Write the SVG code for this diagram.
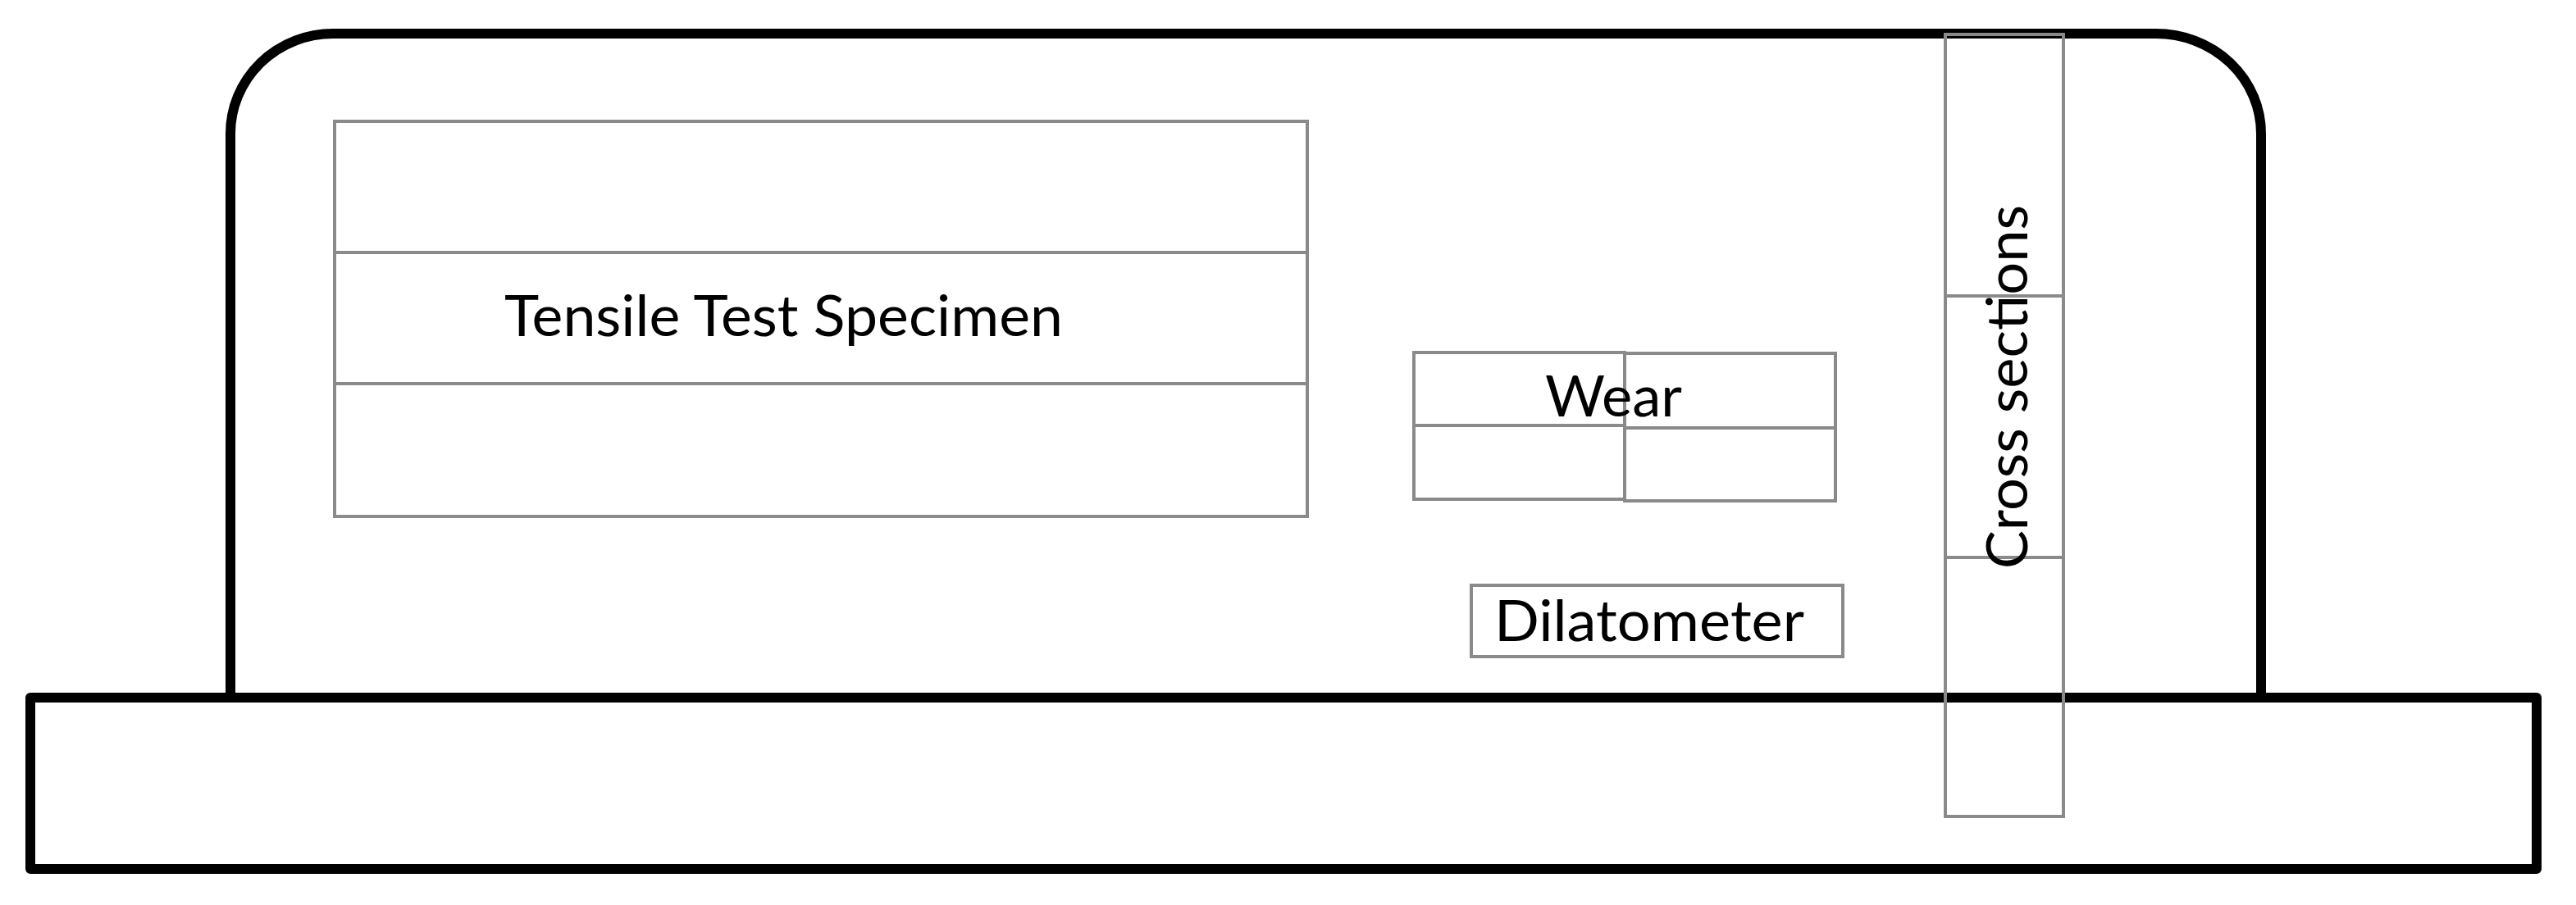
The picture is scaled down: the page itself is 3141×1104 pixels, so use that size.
<svg xmlns="http://www.w3.org/2000/svg" width="3141" height="1104" viewBox="0 0 3141 1104">
<style>
.heavy{fill:none;stroke:#000;stroke-width:12;stroke-linejoin:round}
.cell{fill:none;stroke:#8a8a8a;stroke-width:4}
.lbl{font-family:Lato,"Liberation Sans",sans-serif;font-size:70px;fill:#000}
</style>
<rect width="3141" height="1104" fill="#fff"/>
<g id="housing">
<path class="heavy" d="M281,851 V163 A125,122 0 0 1 406,41 H2629 A128,122 0 0 1 2757,163 V851"/>
</g>
<g id="base">
<rect class="heavy" x="37" y="851" width="3056" height="209"/>
</g>
<g id="tensile">
<rect class="cell" x="408" y="148" width="1186" height="482"/>
<line class="cell" x1="408" y1="308" x2="1594" y2="308"/>
<line class="cell" x1="408" y1="468" x2="1594" y2="468"/>
<text class="lbl" x="615" y="410" textLength="681" lengthAdjust="spacingAndGlyphs">Tensile Test Specimen</text>
</g>
<g id="wear">
<rect class="cell" x="1724" y="430" width="257" height="179"/>
<line class="cell" x1="1724" y1="519" x2="1981" y2="519"/>
<rect class="cell" x="1981" y="431" width="257" height="180"/>
<line class="cell" x1="1981" y1="522" x2="2238" y2="522"/>
<text class="lbl" x="1884" y="508" textLength="167" lengthAdjust="spacingAndGlyphs">Wear</text>
</g>
<g id="dilatometer">
<rect class="cell" x="1794" y="714" width="453" height="87"/>
<text class="lbl" x="1822" y="782" textLength="378" lengthAdjust="spacingAndGlyphs">Dilatometer</text>
</g>
<g id="cross-sections">
<rect class="cell" x="2372" y="42" width="144" height="954"/>
<line class="cell" x1="2372" y1="361" x2="2516" y2="361"/>
<line class="cell" x1="2372" y1="680" x2="2516" y2="680"/>
<text class="lbl" transform="translate(2472,472) rotate(-90)" x="0" y="0" text-anchor="middle" textLength="444" lengthAdjust="spacingAndGlyphs">Cross sections</text>
</g>
<g id="connectors"></g>
</svg>
